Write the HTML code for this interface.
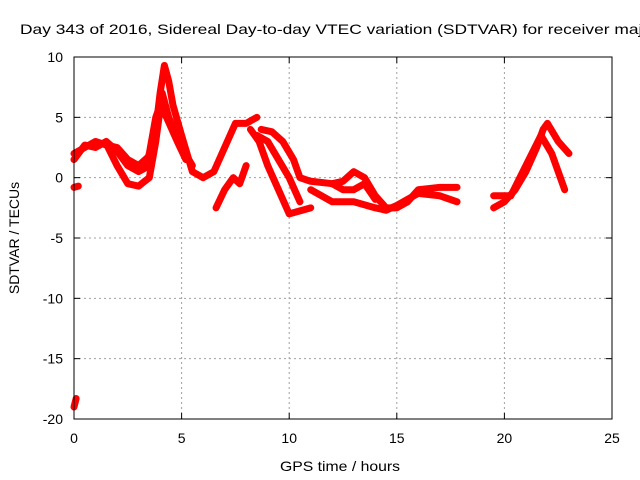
<!DOCTYPE html>
<html><head><meta charset="utf-8"><style>
body{margin:0;background:#fff;}
svg{display:block;font-family:"Liberation Sans",sans-serif;}
</style></head><body>
<svg id="chart" width="640" height="480" viewBox="0 0 640 480">
<rect width="640" height="480" fill="#fff"/>
<text x="20" y="34" font-size="14" fill="#000" textLength="632" lengthAdjust="spacingAndGlyphs">Day 343 of 2016, Sidereal Day-to-day VTEC variation (SDTVAR) for receiver maju</text>
<g id="grid"></g>
<g id="series"></g>
<rect x="74" y="57" width="538" height="362" fill="none" stroke="#000" stroke-width="1"/>
<g id="ticks"></g>
<text x="280" y="471" font-size="14" textLength="120" lengthAdjust="spacingAndGlyphs">GPS time / hours</text>
<text transform="translate(19,238) rotate(-90)" font-size="14" text-anchor="middle">SDTVAR / TECUs</text>
</svg>
<script>
const xTicks=[0,5,10,15,20,25];
const yTicks=[-20,-15,-10,-5,0,5,10];
const track1=[[0,2],[0.5,2.5],[1,3],[1.5,2.7],[2,2.5],[2.5,1.5],[3,1],[3.5,1.8],[3.8,4],[4,7],[4.2,9.3],[4.4,8],[4.6,6],[5,3.5],[5.5,0.5],[6,0],[6.5,0.5],[7,2.5],[7.5,4.5],[8,4.5],[8.5,5]];
const track2=[[0,1.5],[0.5,2.7],[1,2.5],[1.5,3],[2,2.2],[2.5,1],[3,0.5],[3.3,0.8],[3.5,2],[3.8,5],[4,6],[4.3,5],[4.8,3],[5.2,1.5]];
const track3=[[1.5,2.8],[2,1],[2.5,-0.5],[3,-0.7],[3.5,0],[3.8,3],[4.1,7],[4.4,5],[5,2.5],[5.5,1]];
const track4=[[6.6,-2.5],[7,-1],[7.4,0],[7.7,-0.5],[8,1]];
const track5=[[8.2,4],[8.6,3],[9,1],[9.5,-1],[10,-3],[11,-2.5]];
const track6=[[8.5,3.5],[9,3],[9.5,1.5],[10,0],[10.5,-2]];
const track7=[[8.7,4],[9.2,3.8],[9.7,3],[10.2,1.5],[10.5,0],[11,-0.3],[12,-0.5],[12.5,-0.3],[13,0.5],[13.5,0],[14,-1.5],[14.5,-2.5],[15,-2.5],[15.5,-2],[16,-1],[17,-0.8],[17.8,-0.8]];
const track8=[[11,-1],[12,-2],[13,-2],[14,-2.5],[14.5,-2.7],[15,-2.3],[16,-1.3],[17,-1.5],[17.8,-2]];
const track9=[[12,-0.5],[12.5,-1],[13,-1],[13.5,-0.5],[14,-1.8]];
const track10=[[19.5,-2.5],[20,-2],[20.5,-1],[21,0.5],[21.5,2.5],[21.8,4],[22,4.5],[22.5,3],[23,2]];
const track11=[[19.5,-1.5],[20.3,-1.5],[21,1],[21.7,3.5],[22.2,2],[22.8,-1]];
const track12=[[0,-0.8],[0.2,-0.7]];
const track13=[[0,-19],[0.1,-18.3]];
const tracks=[track1,track2,track3,track4,track5,track6,track7,track8,track9,track10,track11,track12,track13];
const X0=74,X1=612,Y0=419,Y1=57,xMin=0,xMax=25,yMin=-20,yMax=10;
function sx(v){return X0+(v-xMin)/(xMax-xMin)*(X1-X0);}
function sy(v){return Y0-(v-yMin)/(yMax-yMin)*(Y0-Y1);}
const NS="http://www.w3.org/2000/svg";
const grid=document.getElementById('grid'),ticks=document.getElementById('ticks'),ser=document.getElementById('series');
function mk(tag,attrs,parent){const e=document.createElementNS(NS,tag);for(const k in attrs)e.setAttribute(k,attrs[k]);parent.appendChild(e);return e;}
xTicks.forEach(t=>{
  const x=sx(t);
  if(t>xMin&&t<xMax){const g=mk('line',{x1:x,x2:x,y1:Y1,y2:Y0,stroke:'#a0a0a0','stroke-dasharray':'2,3'},grid);
  
  }
  const a=mk('line',{x1:x,x2:x,y1:Y0,y2:Y0-6,stroke:'#000'},ticks);
  
  
  const b=mk('line',{x1:x,x2:x,y1:Y1,y2:Y1+6,stroke:'#000'},ticks);
  
  
  const l=mk('text',{x:x,y:443,'font-size':14,'text-anchor':'middle'},ticks);l.textContent=t;
  
  
});
yTicks.forEach(t=>{
  const y=sy(t);
  if(t>yMin&&t<yMax){const g=mk('line',{x1:X0,x2:X1,y1:y,y2:y,stroke:'#a0a0a0','stroke-dasharray':'2,3'},grid);
  
  }
  const a=mk('line',{x1:X0,x2:X0+6,y1:y,y2:y,stroke:'#000'},ticks);
  
  
  const b=mk('line',{x1:X1,x2:X1-6,y1:y,y2:y,stroke:'#000'},ticks);
  
  
  const l=mk('text',{x:63,y:y+5,'font-size':14,'text-anchor':'end'},ticks);l.textContent=t;
  
  
});
tracks.forEach((tr,i)=>{
  const p=mk('polyline',{points:tr.map(d=>sx(d[0])+','+sy(d[1])).join(' '),fill:'none',stroke:'#ff0000','stroke-width':7,'stroke-linejoin':'round','stroke-linecap':'round'},ser);
  
  
});
</script>
</body></html>
